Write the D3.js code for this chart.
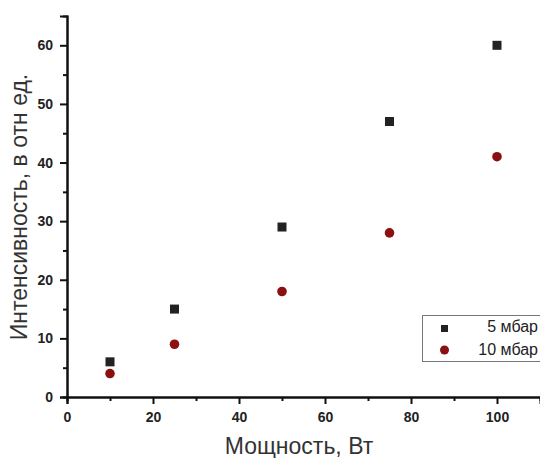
<!DOCTYPE html>
<html>
<head>
<meta charset="utf-8">
<script src="https://cdn.jsdelivr.net/npm/d3@7"></script>
<style>
  html, body { margin: 0; padding: 0; background: #fff; }
  svg { display: block; font-family: "Liberation Sans", Arial, sans-serif; }
</style>
</head>
<body>
<svg id="chart" width="540" height="458"></svg>
<script>
// Power, W
const power = [10, 25, 50, 75, 100];
// Intensity, arb. units
const series5 = [6, 15, 29, 47, 60];
const series10 = [4, 9, 18, 28, 41];
const seriesNames = ["5 мбар", "10 мбар"];
const xTicks = [0, 20, 40, 60, 80, 100];
const yTicks = [0, 10, 20, 30, 40, 50, 60];

const svg = d3.select("#chart");
const x = d3.scaleLinear().domain([0, 110]).range([67, 540]);
const y = d3.scaleLinear().domain([0, 65]).range([397, 16]);

const axisColor = "#111";

// x axis with major and minor ticks
const gx = svg.append("g").attr("transform", `translate(0,${y(0)})`);
gx.call(d3.axisBottom(x).tickValues(d3.range(10, 110, 20)).tickSize(4).tickFormat(""));
gx.call(g => g.append("g").call(d3.axisBottom(x).tickValues(xTicks).tickSize(7).tickPadding(8)));
gx.selectAll("path.domain").attr("stroke", axisColor).attr("stroke-width", 2);
gx.selectAll("line").attr("stroke", axisColor).attr("stroke-width", 2);
gx.selectAll("text").attr("font-size", 14).attr("font-weight", "bold").attr("fill", "#222");

// y axis with major and minor ticks
const gy = svg.append("g").attr("transform", `translate(${x(0)},0)`);
gy.call(d3.axisLeft(y).tickValues(d3.range(5, 65, 10)).tickSize(4).tickFormat(""));
gy.call(g => g.append("g").call(d3.axisLeft(y).tickValues(yTicks).tickSize(7).tickPadding(7)));
gy.selectAll("path.domain").attr("stroke", axisColor).attr("stroke-width", 2);
gy.selectAll("line").attr("stroke", axisColor).attr("stroke-width", 2);
gy.selectAll("text").attr("font-size", 14).attr("font-weight", "bold").attr("fill", "#222");

// axis titles
svg.append("text")
  .attr("x", 299).attr("y", 454)
  .attr("text-anchor", "middle")
  .attr("font-size", 23).attr("fill", "#333")
  .text("Мощность, Вт");

svg.append("text")
  .attr("transform", "translate(27,207) rotate(-90)")
  .attr("text-anchor", "middle")
  .attr("font-size", 23).attr("fill", "#333")
  .text("Интенсивность, в отн ед.");

const squareColor = "#222222";
const circleColor = "#8b1010";

// 5 mbar: squares
svg.append("g").selectAll("rect")
  .data(power.map((p, i) => [p, series5[i]]))
  .join("rect")
  .attr("x", d => x(d[0]) - 4.5).attr("y", d => y(d[1]) - 4.5)
  .attr("width", 9).attr("height", 9)
  .attr("fill", squareColor);

// 10 mbar: circles
svg.append("g").selectAll("circle")
  .data(power.map((p, i) => [p, series10[i]]))
  .join("circle")
  .attr("cx", d => x(d[0])).attr("cy", d => y(d[1]))
  .attr("r", 4.8)
  .attr("fill", circleColor);

// legend
const lg = svg.append("g");
lg.append("rect")
  .attr("x", 422.5).attr("y", 315.5).attr("width", 130).attr("height", 46)
  .attr("fill", "#fff").attr("stroke", "#777").attr("stroke-width", 1);
lg.append("rect").attr("x", 441).attr("y", 325).attr("width", 7).attr("height", 7).attr("fill", squareColor);
lg.append("circle").attr("cx", 444.5).attr("cy", 350).attr("r", 4.5).attr("fill", circleColor);
lg.selectAll("text.lbl")
  .data(seriesNames)
  .join("text")
  .attr("class", "lbl")
  .attr("x", 538).attr("y", (d, i) => 332 + i * 23)
  .attr("text-anchor", "end")
  .attr("font-size", 16).attr("fill", "#222")
  .text(d => d);
</script>
</body>
</html>
